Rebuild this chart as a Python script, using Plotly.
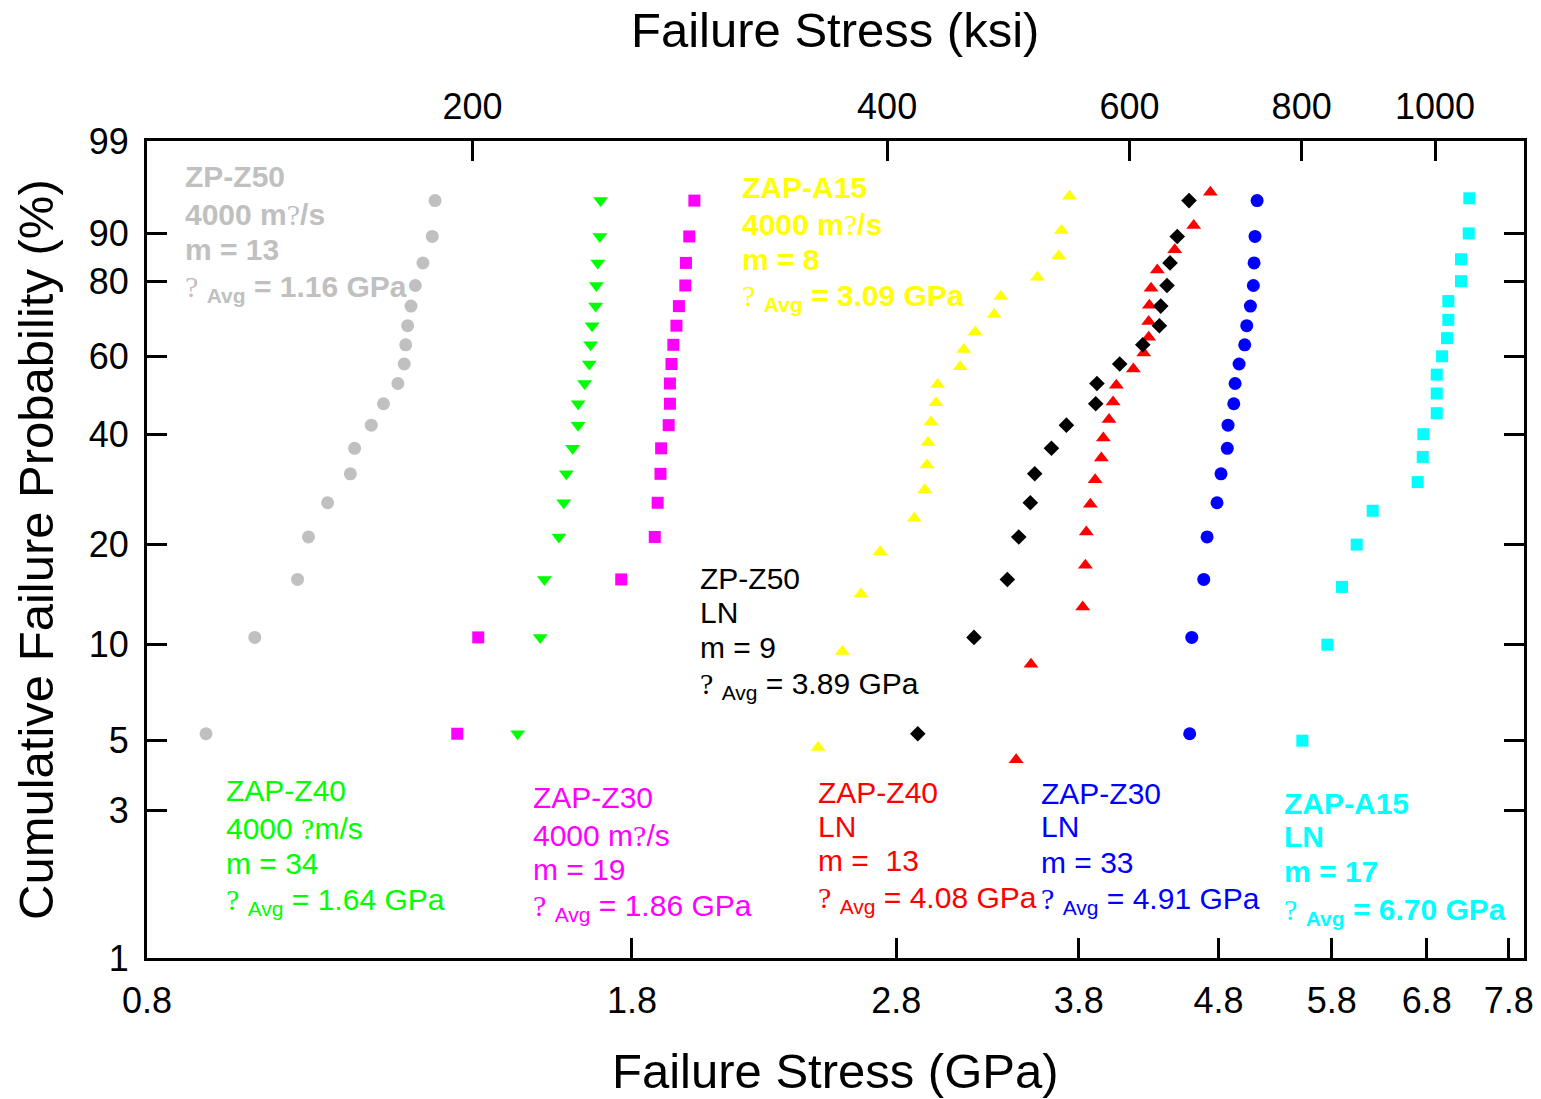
import numpy as np
import plotly.graph_objects as go

# ---------------- data (failure stress in GPa, cumulative failure probability in %) ----------------
zp_z50_4000_stress = [0.883, 0.958, 1.029, 1.048, 1.082, 1.124, 1.132, 1.164, 1.188, 1.217,
                      1.230, 1.233, 1.237, 1.244, 1.253, 1.269, 1.289, 1.295]
zp_z50_4000_prob = [5.26, 10.53, 15.79, 21.05, 26.32, 31.58, 36.84, 42.11, 47.37, 52.63,
                    57.89, 63.16, 68.42, 73.68, 78.95, 84.21, 89.47, 94.74]

zap_z40_4000_stress = [1.487, 1.544, 1.555, 1.593, 1.606, 1.613, 1.630, 1.645, 1.645, 1.663,
                       1.676, 1.680, 1.684, 1.694, 1.696, 1.700, 1.706, 1.708]
zap_z40_4000_prob = [5.26, 10.53, 15.79, 21.05, 26.32, 31.58, 36.84, 42.11, 47.37, 52.63,
                     57.89, 63.16, 68.42, 73.68, 78.95, 84.21, 89.47, 94.74]

zap_z30_4000_stress = [1.344, 1.392, 1.768, 1.870, 1.879, 1.888, 1.890, 1.914, 1.918, 1.918,
                       1.923, 1.929, 1.939, 1.947, 1.968, 1.970, 1.981, 1.998]
zap_z30_4000_prob = [5.26, 10.53, 15.79, 21.05, 26.32, 31.58, 36.84, 42.11, 47.37, 52.63,
                     57.89, 63.16, 68.42, 73.68, 78.95, 84.21, 89.47, 94.74]

zap_a15_4000_stress = [2.457, 2.559, 2.640, 2.726, 2.886, 2.937, 2.948, 2.953, 2.968, 2.993,
                       3.001, 3.116, 3.135, 3.195, 3.298, 3.335, 3.546, 3.675, 3.691, 3.741]
zap_a15_4000_prob = [4.76, 9.52, 14.29, 19.05, 23.81, 28.57, 33.33, 38.10, 42.86, 47.62,
                     52.38, 57.14, 61.90, 66.67, 71.43, 76.19, 80.95, 85.71, 90.48, 95.24]

zp_z50_ln_stress = [2.903, 3.189, 3.372, 3.437, 3.504, 3.530, 3.630, 3.722, 3.909, 3.917,
                    4.069, 4.229, 4.348, 4.358, 4.404, 4.426, 4.480, 4.569]
zp_z50_ln_prob = [5.26, 10.53, 15.79, 21.05, 26.32, 31.58, 36.84, 42.11, 47.37, 52.63,
                  57.89, 63.16, 68.42, 73.68, 78.95, 84.21, 89.47, 94.74]

zap_z40_ln_stress = [3.422, 3.508, 3.825, 3.842, 3.848, 3.874, 3.905, 3.946, 3.959, 3.997,
                     4.024, 4.046, 4.163, 4.236, 4.271, 4.271, 4.276, 4.288, 4.333, 4.461,
                     4.605, 4.735]
zap_z40_ln_prob = [4.35, 8.70, 13.04, 17.39, 21.74, 26.09, 30.43, 34.78, 39.13, 43.48,
                   47.83, 52.17, 56.52, 60.87, 65.22, 69.57, 73.91, 78.26, 82.61, 86.96,
                   91.30, 95.65]

zap_z30_ln_stress = [4.574, 4.590, 4.683, 4.709, 4.788, 4.820, 4.871, 4.877, 4.924, 4.935,
                     4.968, 5.015, 5.032, 5.063, 5.088, 5.094, 5.102, 5.120]
zap_z30_ln_prob = [5.26, 10.53, 15.79, 21.05, 26.32, 31.58, 36.84, 42.11, 47.37, 52.63,
                   57.89, 63.16, 68.42, 73.68, 78.95, 84.21, 89.47, 94.74]

zap_a15_ln_stress = [5.522, 5.758, 5.901, 6.048, 6.212, 6.697, 6.754, 6.761, 6.914, 6.914,
                     6.914, 6.976, 7.034, 7.049, 7.049, 7.200, 7.200, 7.294, 7.301]
zap_a15_ln_prob = [5, 10, 15, 20, 25, 30, 35, 40, 45, 50,
                   55, 60, 65, 70, 75, 80, 85, 90, 95]

# ---------------- axes ticks ----------------
gpa_ticks = [0.8, 1.8, 2.8, 3.8, 4.8, 5.8, 6.8, 7.8]
gpa_tick_labels = ["0.8", "1.8", "2.8", "3.8", "4.8", "5.8", "6.8", "7.8"]
ksi_ticks = [200, 400, 600, 800, 1000]
ksi_tick_labels = ["200", "400", "600", "800", "1000"]
prob_ticks = [1, 3, 5, 10, 20, 40, 60, 80, 90, 99]
prob_tick_labels = ["1", "3", "5", "10", "20", "40", "60", "80", "90", "99"]

GPA_PER_KSI = 0.006894757
X_MIN, X_MAX = 0.8, 8.0
P_MIN, P_MAX = 1, 99


def weibull(p):
    p = np.asarray(p, dtype=float)
    return np.log(-np.log(1.0 - p / 100.0))


FONT = "Arial, 'Liberation Sans', sans-serif"
SERIF = "Times New Roman, Liberation Serif, serif"

W, H = 1541, 1099
L, R, T, B = 147, 1524, 141, 958

fig = go.Figure()

series = [
    (zp_z50_4000_stress, zp_z50_4000_prob, "circle", "#c0c0c0", 13),
    (zap_z40_4000_stress, zap_z40_4000_prob, "triangle-down", "#00ff00", 13),
    (zap_z30_4000_stress, zap_z30_4000_prob, "square", "#ff00ff", 12),
    (zap_a15_4000_stress, zap_a15_4000_prob, "triangle-up", "#ffff00", 13),
    (zap_z40_ln_stress, zap_z40_ln_prob, "triangle-up", "#ff0000", 13),
    (zp_z50_ln_stress, zp_z50_ln_prob, "diamond", "#000000", 12),
    (zap_z30_ln_stress, zap_z30_ln_prob, "circle", "#0000ff", 13),
    (zap_a15_ln_stress, zap_a15_ln_prob, "square", "#00ffff", 12),
]
for xs, ps, sym, col, sz in series:
    fig.add_trace(go.Scatter(
        x=xs, y=weibull(ps), mode="markers",
        marker=dict(symbol=sym, color=col, size=sz, line=dict(width=0)),
        showlegend=False, hoverinfo="skip"))

# invisible trace so the top (ksi) axis is drawn
fig.add_trace(go.Scatter(x=[ksi_ticks[1]], y=[weibull(50)], xaxis="x2", mode="markers",
                         marker=dict(opacity=0), showlegend=False, hoverinfo="skip"))

tickfont = dict(family=FONT, size=36, color="black")
common = dict(ticks="inside", ticklen=20, tickwidth=3, tickcolor="black",
              showline=True, linecolor="black", linewidth=3, automargin=False,
              showgrid=False, zeroline=False, tickfont=tickfont)

fig.update_layout(
    width=W, height=H,
    margin=dict(l=L, r=W - R, t=T, b=H - B, pad=0, autoexpand=False),
    paper_bgcolor="white", plot_bgcolor="white",
    xaxis=dict(type="log", range=[np.log10(X_MIN), np.log10(X_MAX)],
               tickmode="array", tickvals=gpa_ticks, ticktext=gpa_tick_labels,
               ticklabelstandoff=9, **common),
    xaxis2=dict(type="log", overlaying="x", side="top", anchor="y",
                range=[np.log10(X_MIN / GPA_PER_KSI), np.log10(X_MAX / GPA_PER_KSI)],
                tickmode="array", tickvals=ksi_ticks, ticktext=ksi_tick_labels,
                ticklabelstandoff=5, **common),
    yaxis=dict(range=[float(weibull(P_MIN)), float(weibull(P_MAX))],
               tickmode="array", tickvals=weibull(prob_ticks).tolist(), ticktext=prob_tick_labels,
               mirror="ticks", ticklabelstandoff=8, **common),
)


def px2paper(px, py):
    return (px - L) / (R - L), (B - py) / (B - T)


def add_text(text, px, py, color, size=30, xanchor="left", yanchor="middle", angle=0):
    xp, yp = px2paper(px, py)
    fig.add_annotation(text=text, x=xp, y=yp, xref="paper", yref="paper",
                       xanchor=xanchor, yanchor=yanchor, showarrow=False, textangle=angle,
                       font=dict(family=FONT, size=size, color=color))


Q = "<span style=\"font-family:" + SERIF + ";font-size:30px\">?</span>"


def block(lines, px, ys, color):
    for txt, py in zip(lines, ys):
        add_text(txt, px - 2, py, color)


def b(s):
    return "<b>" + s + "</b>"


# ZP-Z50 4000 (grey, bold)
block([b("ZP-Z50"), b("4000 m") + Q + b("/s"), b("m = 13"),
       Q + b(" <sub>Avg</sub> = 1.16 GPa")], 185, [177, 214, 250, 288], "#c0c0c0")
# ZAP-A15 4000 (yellow, bold)
block([b("ZAP-A15"), b("4000 m") + Q + b("/s"), b("m = 8"),
       Q + b(" <sub>Avg</sub> = 3.09 GPa")], 742, [187, 224, 259, 297], "#ffff00")
# ZP-Z50 LN (black)
block(["ZP-Z50", "LN", "m = 9", Q + " <sub>Avg</sub> = 3.89 GPa"],
      700, [578, 612, 647, 685], "#000000")
# ZAP-Z40 4000 (green)
block(["ZAP-Z40", "4000 " + Q + "m/s", "m = 34", Q + " <sub>Avg</sub> = 1.64 GPa"],
      226, [790, 828, 863, 901], "#00ff00")
# ZAP-Z30 4000 (magenta)
block(["ZAP-Z30", "4000 m" + Q + "/s", "m = 19", Q + " <sub>Avg</sub> = 1.86 GPa"],
      533, [797, 835, 869, 907], "#ff00ff")
# ZAP-Z40 LN (red)
block(["ZAP-Z40", "LN", "m =  13", Q + " <sub>Avg</sub> = 4.08 GPa"],
      818, [792, 826, 860, 899], "#ff0000")
# ZAP-Z30 LN (blue)
block(["ZAP-Z30", "LN", "m = 33", Q + " <sub>Avg</sub> = 4.91 GPa"],
      1041, [793, 826, 862, 900], "#0000ff")
# ZAP-A15 LN (cyan, bold)
block([b("ZAP-A15"), b("LN"), b("m = 17"), Q + b(" <sub>Avg</sub> = 6.70 GPa")],
      1284, [803, 836, 871, 911], "#00ffff")

# axis titles
add_text("Failure Stress (ksi)", 835, 30, "black", size=49, xanchor="center")
add_text("Failure Stress (GPa)", 835, 1071, "black", size=49, xanchor="center")
add_text("Cumulative Failure Probability (%)", 36, 550, "black", size=49,
         xanchor="center", angle=-90)

fig.write_html("out.html", config={"displayModeBar": False})
